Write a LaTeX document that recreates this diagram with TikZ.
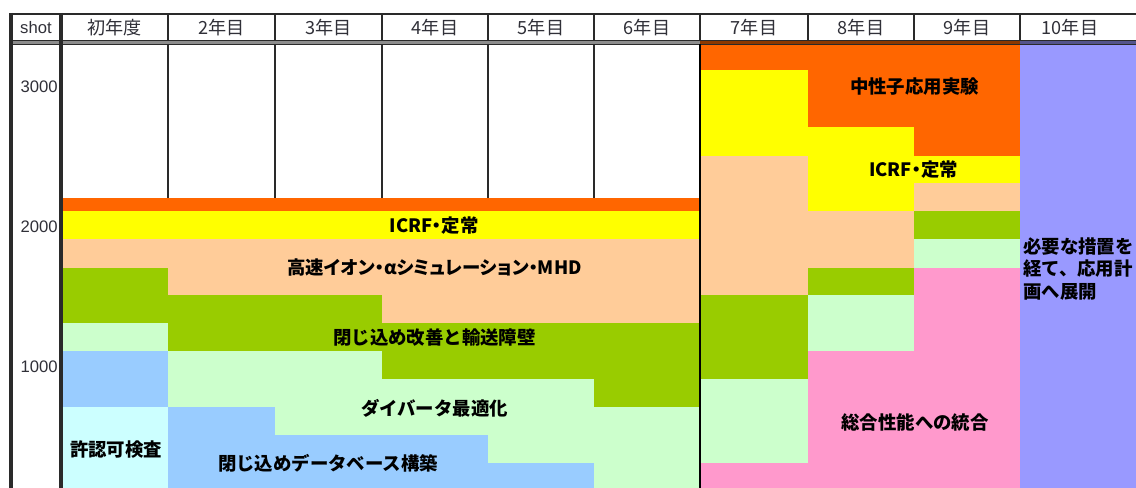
\documentclass[tikz,border=0pt]{standalone}
\usepackage{fontspec}
\newfontfamily\jp{Noto Sans CJK JP}
\newfontfamily\jpp[RawFeature=+palt]{Noto Sans CJK JP}
\newfontfamily\lat{Liberation Sans}
\definecolor{cOrange}{HTML}{FF6600}
\definecolor{cYellow}{HTML}{FFFF00}
\definecolor{cPeach}{HTML}{FFCC99}
\definecolor{cGreen}{HTML}{99CC00}
\definecolor{cLGreen}{HTML}{CCFFCC}
\definecolor{cBlue}{HTML}{99CCFF}
\definecolor{cCyan}{HTML}{CCFFFF}
\definecolor{cPink}{HTML}{FF99CC}
\definecolor{cPurple}{HTML}{9999FF}
\definecolor{cLine}{HTML}{2A2A2A}
\definecolor{cText}{HTML}{303038}
\begin{document}
\begin{tikzpicture}[x=0.75pt,y=-0.75pt,
  lbl/.style={font=\jp\bfseries\fontsize{13.8}{16}\selectfont, inner sep=0pt, text=black},
  plbl/.style={font=\jpp\bfseries\fontsize{13.8}{16}\selectfont, inner sep=0pt, text=black},
  hdr/.style={font=\jp\fontsize{13.6}{16}\selectfont, inner sep=0pt, text=cText},
  axislbl/.style={font=\lat\fontsize{12.5}{15}\selectfont, inner sep=0pt, text=cText},
  gridline/.style={draw=cLine, line width=1.6pt},
  frameline/.style={draw=cLine, line width=2.4pt}]
\useasboundingbox (0,0) rectangle (1136,488);
% ---------- left block (years 1-6)
\fill[cOrange] (61,198) rectangle (700,211);
\fill[cYellow] (61,211) rectangle (700,239);
\fill[cPeach]  (61,239) rectangle (700,323);
% col 1
\fill[cGreen]  (61,268) rectangle (168,323);
\fill[cLGreen] (61,323) rectangle (168,351);
\fill[cBlue]   (61,351) rectangle (168,407);
\fill[cCyan]   (61,407) rectangle (168,488);
% col 2
\fill[cGreen]  (168,295) rectangle (275,351);
\fill[cLGreen] (168,351) rectangle (275,407);
\fill[cBlue]   (168,407) rectangle (275,488);
% col 3
\fill[cGreen]  (275,295) rectangle (382,351);
\fill[cLGreen] (275,351) rectangle (382,435);
\fill[cBlue]   (275,435) rectangle (382,488);
% col 4
\fill[cGreen]  (382,323) rectangle (488,379);
\fill[cLGreen] (382,379) rectangle (488,435);
\fill[cBlue]   (382,435) rectangle (488,488);
% col 5
\fill[cGreen]  (488,323) rectangle (594,379);
\fill[cLGreen] (488,379) rectangle (594,463);
\fill[cBlue]   (488,463) rectangle (594,488);
% col 6
\fill[cGreen]  (594,323) rectangle (700,407);
\fill[cLGreen] (594,407) rectangle (700,488);
% ---------- right block (years 7-10)
% col 7
\fill[cOrange] (700,41) rectangle (808,70);
\fill[cYellow] (700,70) rectangle (808,156);
\fill[cPeach]  (700,156) rectangle (808,295);
\fill[cGreen]  (700,295) rectangle (808,379);
\fill[cLGreen] (700,379) rectangle (808,463);
\fill[cPink]   (700,463) rectangle (808,488);
% col 8
\fill[cOrange] (808,41) rectangle (914,127);
\fill[cYellow] (808,127) rectangle (914,211);
\fill[cPeach]  (808,211) rectangle (914,268);
\fill[cGreen]  (808,268) rectangle (914,295);
\fill[cLGreen] (808,295) rectangle (914,351);
\fill[cPink]   (808,351) rectangle (914,488);
% col 9
\fill[cOrange] (914,41) rectangle (1020,156);
\fill[cYellow] (914,156) rectangle (1020,183);
\fill[cPeach]  (914,183) rectangle (1020,211);
\fill[cGreen]  (914,211) rectangle (1020,239);
\fill[cLGreen] (914,239) rectangle (1020,268);
\fill[cPink]   (914,268) rectangle (1020,488);
% col 10
\fill[cPurple] (1020,41) rectangle (1136,488);
% ---------- lines
\draw[gridline] (11,14) -- (1136,14);
\fill[black, opacity=0.45] (11,40.5) rectangle (1136,44.5);
\draw[draw=cLine, line width=1pt] (11,40.5) -- (1136,40.5);
\draw[draw=cLine, line width=1pt] (11,44.5) -- (1136,44.5);
\foreach \xx in {168,275,382,488,594,700,808,914,1020}
  \draw[gridline] (\xx,14) -- (\xx,40.5);
\foreach \xx in {168,275,382,488,594}
  \draw[gridline] (\xx,44.5) -- (\xx,198);
\draw[draw=black, line width=1.5pt] (700,44.5) -- (700,488);
\draw[frameline] (11,13) -- (11,488);
\draw[frameline] (61,13) -- (61,488);
% ---------- header texts
\node[axislbl] (hshot) at (36,28) {shot};
\node[hdr] (h1) at (114.5,28) {初年度};
\node[hdr] (h2) at (221.5,28) {2年目};
\node[hdr] (h3) at (328.5,28) {3年目};
\node[hdr] (h4) at (435,28) {4年目};
\node[hdr] (h5) at (541,28) {5年目};
\node[hdr] (h6) at (647,28) {6年目};
\node[hdr] (h7) at (754,28) {7年目};
\node[hdr] (h8) at (861,28) {8年目};
\node[hdr] (h9) at (967,28) {9年目};
\node[hdr] (h10) at (1070,28) {10年目};
% ---------- axis labels
\node[axislbl, anchor=east] (a3000) at (58,87) {3000};
\node[axislbl, anchor=east] (a2000) at (58,227) {2000};
\node[axislbl, anchor=east] (a1000) at (58,367) {1000};
% ---------- band labels
\node[plbl] (icrfL) at (434,226) {ICRF・定常};
\node[plbl] (alpha) at (434.5,268) {高速イオン・αシミュレーション・MHD};
\node[lbl] (conf) at (434.5,338) {閉じ込め改善と輸送障壁};
\node[lbl] (div) at (434.5,408) {ダイバータ最適化};
\node[lbl] (db) at (328,463) {閉じ込めデータベース構築};
\node[lbl] (lic) at (116,450) {許認可検査};
\node[lbl] (neut) at (914.5,87) {中性子応用実験};
\node[plbl] (icrfR) at (913.5,170) {ICRF・定常};
\node[lbl] (integ) at (915,422) {総合性能への統合};
\node[lbl, anchor=north west, align=left, font=\jp\bfseries\fontsize{13.8}{16.9}\selectfont] (next) at (1023,237) {必要な措置を\\経て、応用計\\画へ展開};
\end{tikzpicture}
\end{document}
